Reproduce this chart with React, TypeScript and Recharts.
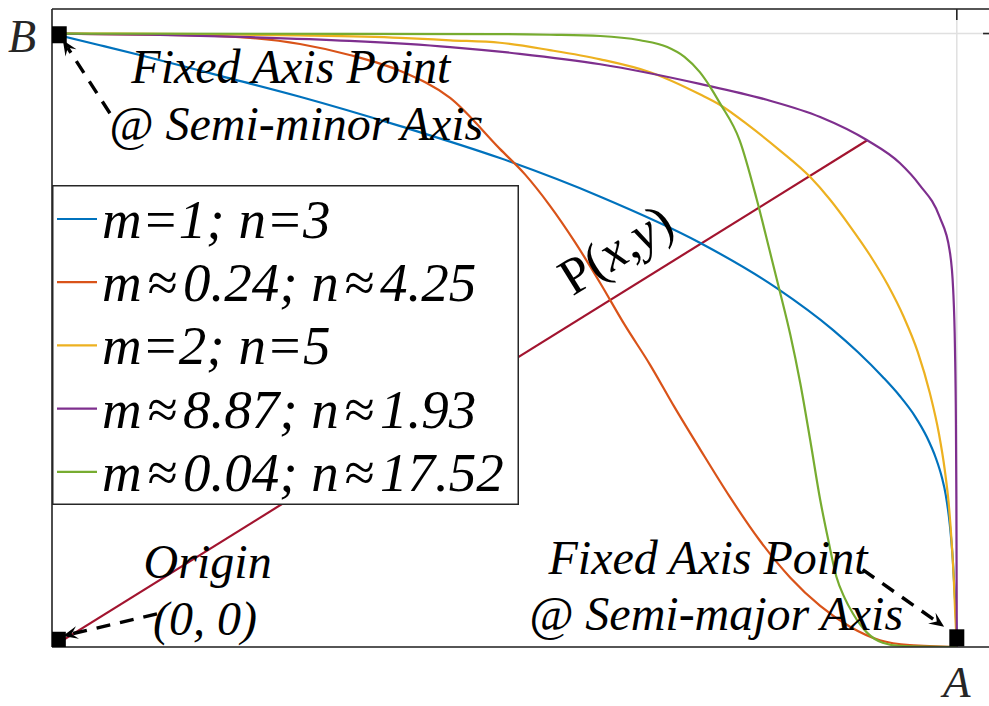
import React from 'react';
import {
  ComposedChart,
  Line,
  Scatter,
  XAxis,
  YAxis,
  CartesianGrid,
  Legend,
  ReferenceLine,
} from 'recharts';

// Generalised quarter-ellipse curves from B (0, 1) to A (1, 0), one [x, y] list per (m, n) pair
const curveM1N3: [number, number][] = [
  [0, 1], [0.053, 0.981], [0.097, 0.965], [0.186, 0.931], [0.274, 0.897], [0.385, 0.849],
  [0.495, 0.797], [0.606, 0.734], [0.716, 0.659], [0.801, 0.585], [0.863, 0.517],
  [0.8906, 0.4808], [0.9182, 0.4401], [0.937, 0.4091], [0.9536, 0.3765], [0.9669, 0.3423],
  [0.9768, 0.3081], [0.9834, 0.2771], [0.9878, 0.2478], [0.9923, 0.1989], [0.9956, 0.142],
  [0.9978, 0.0848], [0.9994, 0.0359], [1, 0],
];

const curveM024N425: [number, number][] = [
  [0, 1], [0.108, 0.998], [0.164, 0.997], [0.219, 0.993], [0.274, 0.983], [0.329, 0.965],
  [0.385, 0.939], [0.44, 0.895], [0.495, 0.812], [0.523, 0.77], [0.55, 0.72], [0.578, 0.66],
  [0.606, 0.593], [0.633, 0.525], [0.661, 0.46], [0.688, 0.391], [0.716, 0.323],
  [0.749, 0.245], [0.782, 0.174], [0.816, 0.113], [0.849, 0.067], [0.882, 0.033],
  [0.915, 0.011], [0.948, 0.003], [1, 0],
];

const curveM2N5: [number, number][] = [
  [0, 1], [0.164, 0.999], [0.274, 0.997], [0.385, 0.993], [0.44, 0.989], [0.495, 0.985],
  [0.55, 0.973], [0.606, 0.958], [0.661, 0.937], [0.716, 0.901], [0.738, 0.884],
  [0.771, 0.849], [0.804, 0.81], [0.838, 0.766], [0.86, 0.729], [0.8818, 0.6862],
  [0.9039, 0.639], [0.9238, 0.59], [0.9414, 0.5379], [0.9569, 0.4808], [0.9702, 0.414],
  [0.9801, 0.3488], [0.9867, 0.2885], [0.9912, 0.2315], [0.9945, 0.1663], [0.9967, 0.1092],
  [0.9983, 0.0522], [1, 0],
];

const curveM887N193: [number, number][] = [
  [0, 1], [0.108, 0.998], [0.219, 0.994], [0.329, 0.988], [0.44, 0.978], [0.517, 0.967],
  [0.606, 0.95], [0.716, 0.918], [0.79, 0.892], [0.849, 0.864], [0.901, 0.826],
  [0.937, 0.789], [0.959, 0.753], [0.981, 0.701], [0.992, 0.647], [0.996, 0.582],
  [0.998, 0.484], [0.999, 0.37], [0.9995, 0.24], [1, 0],
];

const curveM004N1752: [number, number][] = [
  [0, 1], [0.495, 0.999], [0.55, 0.998], [0.606, 0.996], [0.65, 0.989], [0.68, 0.978],
  [0.699, 0.962], [0.716, 0.937], [0.727, 0.914], [0.738, 0.887], [0.76, 0.826],
  [0.779, 0.729], [0.793, 0.647], [0.804, 0.582], [0.816, 0.509], [0.827, 0.43],
  [0.838, 0.337], [0.849, 0.24], [0.858, 0.174], [0.867, 0.114], [0.876, 0.08],
  [0.885, 0.055], [0.901, 0.023], [0.918, 0.007], [0.937, 0.002], [1, 0],
];

// radius from the origin to P(x, y) on the m≈8.87 curve
const radiusToP: [number, number][] = [[0, 0], [0.901, 0.826]];

// origin, fixed point on the semi-minor axis (B), fixed point on the semi-major axis (A)
const fixedPoints: [number, number][] = [[0.007, 0.011], [0.008, 0.998], [1, 0.015]];

const seriesNames = [
  'm=1; n=3',
  'm≈0.24; n≈4.25',
  'm=2; n=5',
  'm≈8.87; n≈1.93',
  'm≈0.04; n≈17.52',
];
const seriesCurves = [curveM1N3, curveM024N425, curveM2N5, curveM887N193, curveM004N1752];
const seriesColors = ['#0072BD', '#D95319', '#EDB120', '#7E2F8E', '#77AC30'];

const xTicks = [1];
const xTickLabels = ['A'];
const yTicks = [1];
const yTickLabels = ['B'];
const AXIS_MAX = 1.04;

const toPoints = (pts: [number, number][]) => pts.map(([x, y]) => ({ x, y }));

// text placed in data coordinates (baseline centre)
const notes = [
  { x: 0.264, y: 0.919, text: 'Fixed Axis Point' },
  { x: 0.27, y: 0.826, text: '@ Semi-minor Axis' },
  { x: 0.172, y: 0.112, text: 'Origin' },
  { x: 0.169, y: 0.02, text: '(0, 0)' },
  { x: 0.725, y: 0.119, text: 'Fixed Axis Point' },
  { x: 0.734, y: 0.028, text: '@ Semi-major Axis' },
];
const pointLabel = [{ x: 0.633, y: 0.624 }];

// dashed pointers: [from, to]
const pointers = [
  [{ x: 0.064, y: 0.87 }, { x: 0.012, y: 0.989 }],
  [{ x: 0.116, y: 0.054 }, { x: 0.012, y: 0.018 }],
  [{ x: 0.896, y: 0.126 }, { x: 0.986, y: 0.033 }],
];

const SERIF = "'Liberation Serif', 'Times New Roman', serif";
const AXIS = '#262626';

const SquareMarker = (props: any) => {
  const { cx, cy } = props;
  return <rect x={cx - 7.5} y={cy - 8.5} width={15} height={17} fill="#000" />;
};

const NoteText = (props: any) => {
  const { cx, cy } = props;
  const text = props.payload?.text ?? props.text;
  return (
    <text x={cx} y={cy} textAnchor="middle" fontFamily={SERIF} fontStyle="italic" fontSize={48} fill="#000">
      {text}
    </text>
  );
};

const PointText = (props: any) => {
  const { cx, cy } = props;
  return (
    <text
      x={cx}
      y={cy}
      textAnchor="middle"
      fontFamily={SERIF}
      fontSize={52}
      fill="#000"
      transform={`rotate(-31.7 ${cx} ${cy})`}
    >
      P(<tspan fontStyle="italic">x</tspan>,<tspan fontStyle="italic">y</tspan>)
    </text>
  );
};

const DashedArrow = (props: any) => {
  const { x1, y1, x2, y2 } = props;
  const a = Math.atan2(y2 - y1, x2 - x1);
  const ux = Math.cos(a);
  const uy = Math.sin(a);
  const len = 15;
  const half = 6.5;
  const notch = 9;
  const bx = x2 - ux * len;
  const by = y2 - uy * len;
  const head = `M${x2},${y2} L${bx - uy * half},${by + ux * half} L${x2 - ux * notch},${y2 - uy * notch} L${bx + uy * half},${by - ux * half} Z`;
  return (
    <g>
      <line
        x1={x1}
        y1={y1}
        x2={x2 - ux * notch}
        y2={y2 - uy * notch}
        stroke="#000"
        strokeWidth={3.4}
        strokeDasharray="14 10"
      />
      <path d={head} fill="#000" />
    </g>
  );
};

const BottomLetter = (props: any) => {
  const { x, y, index } = props;
  return (
    <text x={x} y={y + 50} textAnchor="middle" fontFamily={SERIF} fontStyle="italic" fontSize={45} fill={AXIS}>
      {xTickLabels[index]}
    </text>
  );
};

const LeftLetter = (props: any) => {
  const { x, y, index } = props;
  return (
    <text x={x - 16} y={y + 18} textAnchor="end" fontFamily={SERIF} fontStyle="italic" fontSize={46} fill={AXIS}>
      {yTickLabels[index]}
    </text>
  );
};

// the approximately-equal sign gets a little extra room on both sides
const LegendLabel = ({ value }: { value: string }) => {
  const parts = value.split('≈');
  return (
    <>
      {parts.map((part, k) => (
        <React.Fragment key={k}>
          {k > 0 && <tspan dx={5}>≈</tspan>}
          <tspan dx={k > 0 ? 6 : 0}>{part}</tspan>
        </React.Fragment>
      ))}
    </>
  );
};

const LegendBox = ({ payload }: any) => {
  const items = (payload || [])
    .filter((p: any) => seriesNames.includes(p.value))
    .sort((a: any, b: any) => seriesNames.indexOf(a.value) - seriesNames.indexOf(b.value));
  return (
    <svg width={467} height={320} style={{ display: 'block' }}>
      <rect x={0.75} y={0.75} width={465.5} height={318.5} fill="#fff" stroke={AXIS} strokeWidth={1.5} />
      {items.map((item: any, i: number) => {
        const cy = 34 + i * 63.2;
        return (
          <g key={item.value}>
            <line x1={5} x2={45} y1={cy} y2={cy} stroke={item.color} strokeWidth={2.2} />
            <text x={50} y={cy + 19} fontFamily={SERIF} fontStyle="italic" fontSize={55} fill="#000">
              <LegendLabel value={item.value} />
            </text>
          </g>
        );
      })}
    </svg>
  );
};

export default function App() {
  return (
    <div style={{ position: 'absolute', left: 0, top: 0, width: 989, height: 706, overflow: 'hidden', background: '#fff' }}>
      <ComposedChart width={1000} height={706} margin={{ top: 9, right: 7, bottom: 0, left: 0 }}>
        <CartesianGrid stroke="#e0e0e0" strokeWidth={1.5} />
        <XAxis
          dataKey="x"
          type="number"
          domain={[0, AXIS_MAX]}
          ticks={xTicks}
          height={59}
          allowDataOverflow
          axisLine={{ stroke: AXIS, strokeWidth: 1.6 }}
          tickLine={false}
          tickSize={0}
          tickMargin={0}
          tick={<BottomLetter />}
        />
        <YAxis
          dataKey="y"
          type="number"
          domain={[0, AXIS_MAX]}
          ticks={yTicks}
          width={52}
          allowDataOverflow
          axisLine={{ stroke: AXIS, strokeWidth: 1.6 }}
          tickLine={false}
          tickSize={0}
          tickMargin={0}
          tick={<LeftLetter />}
        />

        {/* box edges and inward ticks on the top and right sides */}
        <ReferenceLine y={AXIS_MAX} stroke={AXIS} strokeWidth={1.6} ifOverflow="visible" />
        <ReferenceLine x={AXIS_MAX} stroke={AXIS} strokeWidth={1.6} ifOverflow="visible" />
        <ReferenceLine
          segment={[{ x: xTicks[0], y: AXIS_MAX }, { x: xTicks[0], y: AXIS_MAX - 0.018 }]}
          stroke={AXIS}
          strokeWidth={1.6}
          ifOverflow="visible"
        />
        <ReferenceLine
          segment={[{ x: AXIS_MAX, y: yTicks[0] }, { x: AXIS_MAX - 0.011, y: yTicks[0] }]}
          stroke={AXIS}
          strokeWidth={1.6}
          ifOverflow="visible"
        />

        <Line
          data={toPoints(radiusToP)}
          dataKey="y"
          type="linear"
          stroke="#A2142F"
          strokeWidth={2.2}
          dot={false}
          legendType="none"
          isAnimationActive={false}
        />
        {seriesCurves.map((curve, i) => (
          <Line
            key={seriesNames[i]}
            name={seriesNames[i]}
            data={toPoints(curve)}
            dataKey="y"
            type="monotone"
            stroke={seriesColors[i]}
            strokeWidth={2.2}
            dot={false}
            isAnimationActive={false}
          />
        ))}

        {pointers.map((seg, i) => (
          <ReferenceLine key={`ptr-${i}`} segment={seg} shape={<DashedArrow />} ifOverflow="visible" />
        ))}

        <Scatter
          data={toPoints(fixedPoints)}
          dataKey="y"
          shape={<SquareMarker />}
          legendType="none"
          isAnimationActive={false}
        />
        <Scatter data={notes} dataKey="y" shape={<NoteText />} legendType="none" isAnimationActive={false} />
        <Scatter data={pointLabel} dataKey="y" shape={<PointText />} legendType="none" isAnimationActive={false} />

        <Legend
          layout="vertical"
          align="center"
          verticalAlign="middle"
          content={<LegendBox />}
          wrapperStyle={{ left: 52, top: 185, width: 467, height: 320 }}
        />
      </ComposedChart>
    </div>
  );
}
